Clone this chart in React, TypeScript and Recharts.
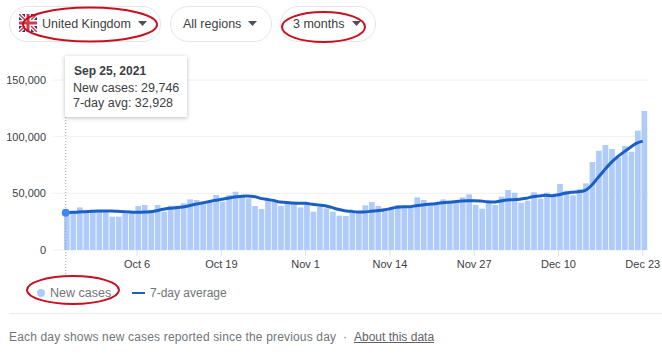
import { Bar, CartesianGrid, ComposedChart, Line, ReferenceLine, XAxis, YAxis } from "recharts";

const FONT = '"Liberation Sans", Arial, sans-serif';

const days = [
  "Sep 25", "Sep 26", "Sep 27", "Sep 28", "Sep 29", "Sep 30",
  "Oct 1", "Oct 2", "Oct 3", "Oct 4", "Oct 5", "Oct 6", "Oct 7", "Oct 8", "Oct 9", "Oct 10",
  "Oct 11", "Oct 12", "Oct 13", "Oct 14", "Oct 15", "Oct 16", "Oct 17", "Oct 18", "Oct 19", "Oct 20",
  "Oct 21", "Oct 22", "Oct 23", "Oct 24", "Oct 25", "Oct 26", "Oct 27", "Oct 28", "Oct 29", "Oct 30", "Oct 31",
  "Nov 1", "Nov 2", "Nov 3", "Nov 4", "Nov 5", "Nov 6", "Nov 7", "Nov 8", "Nov 9", "Nov 10",
  "Nov 11", "Nov 12", "Nov 13", "Nov 14", "Nov 15", "Nov 16", "Nov 17", "Nov 18", "Nov 19", "Nov 20",
  "Nov 21", "Nov 22", "Nov 23", "Nov 24", "Nov 25", "Nov 26", "Nov 27", "Nov 28", "Nov 29", "Nov 30",
  "Dec 1", "Dec 2", "Dec 3", "Dec 4", "Dec 5", "Dec 6", "Dec 7", "Dec 8", "Dec 9", "Dec 10",
  "Dec 11", "Dec 12", "Dec 13", "Dec 14", "Dec 15", "Dec 16", "Dec 17", "Dec 18", "Dec 19", "Dec 20",
  "Dec 21", "Dec 22", "Dec 23",
];

const newCases = [
  29746, 33800, 37600, 34700, 34700, 34700, 34700, 29400, 29400, 32300,
  33800, 38800, 39700, 35300, 39700, 33800, 39100, 39100, 41150, 44700,
  44100, 42000, 42000, 48500, 42600, 48500, 51450, 47600, 45600, 38800,
  36200, 43500, 44100, 39100, 41150, 41150, 37600, 40300, 33800, 38200,
  36750, 33800, 30300, 30000, 32900, 33800, 39400, 42300, 38800, 36750,
  35900, 39700, 37600, 38200, 46450, 44100, 41150, 41150, 44700, 43500,
  43500, 46450, 49100, 39700, 36450, 41750, 39700, 47000, 52900, 50550,
  41750, 43500, 50900, 45300, 50550, 48500, 58200, 52300, 48200, 53500,
  58800, 77600, 87600, 92600, 89100, 81700, 91700, 86700, 105250, 122600,
];

const sevenDayAvg = [
  32928, 33200, 33500, 33800, 34100, 34400, 34400, 34400, 34100, 33800,
  33500, 33200, 33500, 33800, 34700, 35900, 36750, 37300, 37900, 39100,
  40300, 41450, 42600, 43800, 44700, 45600, 46750, 47300, 47600, 47300,
  45570, 44700, 43800, 42300, 42000, 41450, 41150, 41150, 40300, 39700,
  39100, 37600, 35900, 34700, 34100, 33500, 33500, 34100, 34700, 35300,
  36450, 37600, 38200, 38200, 39100, 39700, 40300, 40900, 41750, 42050,
  42650, 43200, 43500, 43500, 43200, 42600, 42300, 43200, 44100, 44400,
  44700, 45600, 47000, 47600, 48200, 47900, 48800, 50000, 50900, 51450,
  52300, 56450, 63200, 70000, 76400, 81700, 86100, 90250, 94100, 96100,
];

const xTicks = ["Oct 6", "Oct 19", "Nov 1", "Nov 14", "Nov 27", "Dec 10", "Dec 23"];
const yTicks = [0, 50000, 100000, 150000];

const chartData = days.map((day, i) => ({ day, cases: newCases[i], avg: sevenDayAvg[i] }));

function Pill({ left, width, textLeft, caretLeft, label }: any) {
  return (
    <>
      <div style={{ position: "absolute", left, top: 6, width, height: 34, border: "1px solid #e4e6e8", borderRadius: 18, boxSizing: "content-box" }} />
      <span style={{ position: "absolute", left: textLeft, top: 16, fontSize: 12.5, lineHeight: "16px", color: "#3c4043", whiteSpace: "nowrap" }}>{label}</span>
      <svg style={{ position: "absolute", left: caretLeft, top: 21 }} width={10} height={6}>
        <path d="M0 0 L9 0 L4.5 5 Z" fill="#4d5156" />
      </svg>
    </>
  );
}

function Flag() {
  return (
    <svg style={{ position: "absolute", left: 19, top: 14 }} width={18} height={18} viewBox="0 0 18 18">
      <rect width={18} height={18} rx={2} fill="#27357c" />
      <path d="M0 0 L18 18 M18 0 L0 18" stroke="#fff" strokeWidth={4} />
      <path d="M0 0 L18 18 M18 0 L0 18" stroke="#cf3a4c" strokeWidth={1.5} />
      <path d="M9 0 V18 M0 9 H18" stroke="#fff" strokeWidth={6} />
      <path d="M9 0 V18 M0 9 H18" stroke="#cf3a4c" strokeWidth={3} />
    </svg>
  );
}

export default function App() {
  return (
    <div style={{ position: "absolute", left: 0, top: 0, width: 662, height: 354, overflow: "hidden", background: "#fff", fontFamily: FONT }}>
      <ComposedChart
        width={662}
        height={354}
        data={chartData}
        margin={{ top: 80, right: 14, bottom: 74, left: 0 }}
        barCategoryGap={0}
      >
        <CartesianGrid vertical={false} stroke="#eff0f1" xAxisId="line" />
        <XAxis xAxisId="bars" dataKey="day" hide height={0} padding={{ left: 11, right: 0 }} />
        <XAxis
          xAxisId="line"
          dataKey="day"
          ticks={xTicks}
          interval={0}
          height={30}
          padding={{ left: 9.5, right: 2 }}
          axisLine={false}
          tickLine={{ stroke: "#e0e0e0" }}
          tickSize={6}
          tickMargin={4}
          tick={{ fontSize: 11, fill: "#3c4043", fontFamily: FONT }}
        />
        <YAxis
          width={53}
          domain={[0, 150000]}
          ticks={yTicks}
          axisLine={false}
          tickLine={false}
          tickMargin={1}
          tick={{ fontSize: 11, fill: "#3c4043", fontFamily: FONT }}
          tickFormatter={(v: number) => v.toLocaleString("en-US")}
        />
        <Bar xAxisId="bars" dataKey="cases" fill="#aecbfa" barSize={5.7} isAnimationActive={false} />
        <ReferenceLine
          xAxisId="line"
          x="Sep 25"
          ifOverflow="visible"
          shape={(p: any) => (
            <line x1={p.x1} x2={p.x2} y1={117} y2={279} stroke="#9aa0a6" strokeWidth={1} strokeDasharray="1 2" />
          )}
        />
        <Line
          xAxisId="line"
          dataKey="avg"
          type="monotone"
          stroke="#1a5fc4"
          strokeWidth={3}
          isAnimationActive={false}
          dot={(p: any) =>
            p.index === 0 ? <circle key="first" cx={p.cx} cy={p.cy} r={4} fill="#4285f4" /> : <g key={p.index} />
          }
        />
      </ComposedChart>

      <Flag />
      <Pill left={9} width={150} textLeft={42} caretLeft={138} label="United Kingdom" />
      <Pill left={170} width={100} textLeft={183} caretLeft={248} label="All regions" />
      <Pill left={280} width={94} textLeft={293} caretLeft={352} label="3 months" />

      <div style={{ position: "absolute", left: 65, top: 56, width: 122, height: 61, background: "#fff", boxShadow: "0 1px 4px rgba(60,64,67,0.35)", fontSize: 12.5, lineHeight: "16px", color: "#3c4043" }}>
        <div style={{ position: "absolute", left: 9, top: 7, fontWeight: 700, whiteSpace: "nowrap", fontSize: 12 }}>Sep 25, 2021</div>
        <div style={{ position: "absolute", left: 8, top: 24, whiteSpace: "nowrap" }}>New cases: 29,746</div>
        <div style={{ position: "absolute", left: 8, top: 39, whiteSpace: "nowrap" }}>7-day avg: 32,928</div>
      </div>

      <svg style={{ position: "absolute", left: 37, top: 289 }} width={8} height={8}>
        <circle cx={4} cy={4} r={4} fill="#aecbfa" />
      </svg>
      <span style={{ position: "absolute", left: 50, top: 285, fontSize: 12.5, lineHeight: "16px", color: "#70757a", whiteSpace: "nowrap" }}>New cases</span>
      <div style={{ position: "absolute", left: 132, top: 292, width: 13, height: 2, background: "#1a5fc4" }} />
      <span style={{ position: "absolute", left: 150, top: 285, fontSize: 12, lineHeight: "16px", color: "#70757a", whiteSpace: "nowrap" }}>7-day average</span>

      <div style={{ position: "absolute", left: 9, top: 313, width: 653, height: 1, background: "#e8eaed" }} />
      <span style={{ position: "absolute", left: 9, top: 329, fontSize: 12, letterSpacing: 0.16, lineHeight: "16px", color: "#70757a", whiteSpace: "nowrap" }}>Each day shows new cases reported since the previous day</span>
      <span style={{ position: "absolute", left: 343, top: 329, fontSize: 12, lineHeight: "16px", color: "#70757a" }}>·</span>
      <span style={{ position: "absolute", left: 354, top: 329, fontSize: 12, lineHeight: "16px", color: "#5f6368", textDecoration: "underline", whiteSpace: "nowrap" }}>About this data</span>

      <svg style={{ position: "absolute", left: 0, top: 0, pointerEvents: "none" }} width={662} height={354}>
        <ellipse cx={90} cy={24.5} rx={67} ry={17} fill="none" stroke="#c8101e" strokeWidth={2} />
        <ellipse cx={323.5} cy={27} rx={41.5} ry={15} fill="none" stroke="#c8101e" strokeWidth={2} />
        <ellipse cx={73} cy={290} rx={46} ry={14} fill="none" stroke="#c8101e" strokeWidth={2} />
      </svg>
    </div>
  );
}
